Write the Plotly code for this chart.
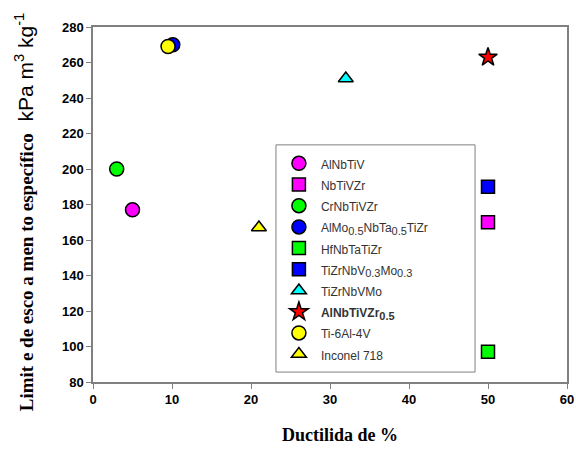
import plotly.graph_objects as go

# Alloy data: ductility (%) vs specific yield strength (kPa m3 kg-1)
SUB = "<sub><span style='font-size:11px'>{}</span></sub>"
names = [
    "AlNbTiV",
    "NbTiVZr",
    "CrNbTiVZr",
    "AlMo" + SUB.format("0.5") + "NbTa" + SUB.format("0.5") + "TiZr",
    "HfNbTaTiZr",
    "TiZrNbV" + SUB.format("0.3") + "Mo" + SUB.format("0.3"),
    "TiZrNbVMo",
    "<b>AlNbTiVZr" + SUB.format("0.5") + "</b>",
    "Ti-6Al-4V",
    "Inconel 718",
]
ductility = [5, 50, 3, 10.1, 50, 50, 32, 50, 9.5, 21]
strength = [177, 170, 200, 270, 97, 190, 251, 263, 269, 167]
symbols = ["circle", "square", "circle", "circle", "square", "square",
           "triangle-up", "star", "circle", "triangle-up"]
colors = ["#ff00ff", "#ff00ff", "#00ff00", "#0000ff", "#00ff00", "#0000ff",
          "#00ffff", "#ff0000", "#ffff00", "#ffff00"]
sizes = [14, 13, 14, 14, 13, 13, 13, 14, 14, 13]

x_ticks = [0, 10, 20, 30, 40, 50, 60]
y_ticks = [80, 100, 120, 140, 160, 180, 200, 220, 240, 260, 280]

fig = go.Figure()
for n, xv, yv, s, c, sz in zip(names, ductility, strength, symbols, colors, sizes):
    fig.add_trace(go.Scatter(
        x=[xv], y=[yv], mode="markers",
        name="<span style='font-size:12px'>" + n + "</span>",
        marker=dict(symbol=s, color=c, size=sz,
                    line=dict(color="black", width=1.5)),
    ))

axis_common = dict(
    showline=True, linecolor="#808080", linewidth=1.5, mirror=True,
    ticks="outside", ticklen=5, tickcolor="#808080", showgrid=False,
    zeroline=False, automargin=False,
    tickfont=dict(family="Arial", size=13, color="black", weight="bold"),
)

serif = "Times New Roman, Liberation Serif"

fig.update_layout(
    width=576, height=450,
    margin=dict(l=93, r=9, t=27, b=68),
    paper_bgcolor="white", plot_bgcolor="white",
    xaxis=dict(range=[0, 60], tickvals=x_ticks, **axis_common),
    yaxis=dict(range=[80, 280], tickvals=y_ticks, **axis_common),
    legend=dict(
        x=0.388, y=0.660, xanchor="left", yanchor="top",
        bgcolor="rgba(0,0,0,0)", borderwidth=0,
        font=dict(family="Arial", size=14, color="#333333"),
        tracegroupgap=0, itemwidth=34,
    ),
    showlegend=True,
    annotations=[
        dict(text="<b>Ductilida de %</b>", xref="paper", yref="paper",
             x=0.521, y=-0.149, xanchor="center", yanchor="middle",
             showarrow=False,
             font=dict(family=serif, size=18, color="black")),
        dict(text="<b>Limit e de esco a men to específico</b>"
                  "<span style='font-family:Arial;font-weight:normal;font-size:21px'>"
                  "  kPa m<sup>3</sup> kg<sup>-1</sup></span>",
             xref="paper", yref="paper", x=-0.145, y=0.479,
             xanchor="center", yanchor="middle", textangle=-90,
             showarrow=False,
             font=dict(family=serif, size=19, color="black")),
    ],
    shapes=[
        # frame around the legend
        dict(type="rect", xref="paper", yref="paper",
             x0=0.386, x1=0.806, y0=0.028, y1=0.668,
             line=dict(color="#808080", width=1), fillcolor="rgba(0,0,0,0)"),
    ],
)

fig.write_html("out.html")
